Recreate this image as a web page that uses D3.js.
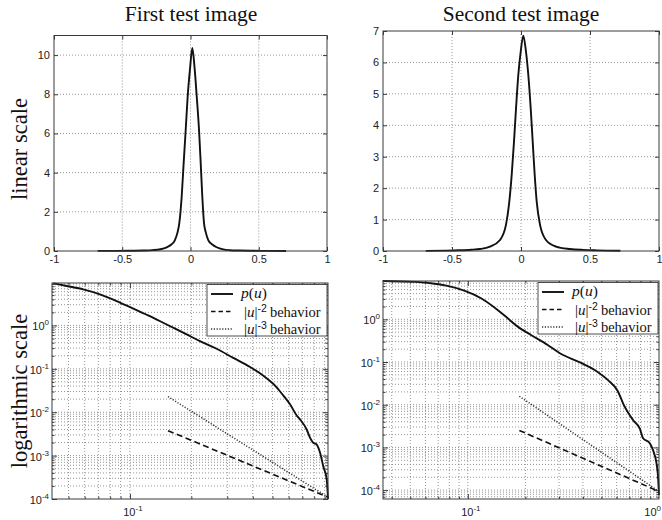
<!DOCTYPE html>
<html>
<head>
<meta charset="utf-8">
<script src="https://cdn.jsdelivr.net/npm/d3@7"></script>
<style>
  body { margin: 0; background: #fff; }
</style>
</head>
<body>
<svg id="fig" width="662" height="520"></svg>
<script>
// ---- linear-scale density p(u), first image ----
const linU1 = [-0.68, -0.55, -0.45, -0.35, -0.28, -0.22, -0.174, -0.14, -0.114, -0.095, -0.082, -0.0645, -0.050, -0.035, -0.0205, -0.0037, 0.0132, 0.0307, 0.0454, 0.0623, 0.0747, 0.0864, 0.099, 0.112, 0.130, 0.16, 0.192, 0.24, 0.289, 0.36, 0.45, 0.55, 0.70];
const linP1 = [0.004, 0.008, 0.014, 0.026, 0.045, 0.09, 0.19, 0.33, 0.56, 0.95, 1.42, 2.78, 4.5, 6.2, 7.91, 9.28, 10.36, 9.28, 7.91, 6.2, 4.5, 2.78, 1.42, 0.95, 0.56, 0.33, 0.19, 0.08, 0.04, 0.022, 0.012, 0.007, 0.003];

// ---- linear-scale density p(u), second image ----
const linU2 = [-0.69, -0.55, -0.45, -0.36, -0.297, -0.225, -0.152, -0.109, -0.0848, -0.0674, -0.0507, -0.036, -0.0196, -0.0022, 0.0167, 0.0362, 0.053, 0.0703, 0.0848, 0.0993, 0.1138, 0.138, 0.181, 0.254, 0.355, 0.45, 0.55, 0.72];
const linP2 = [0.005, 0.012, 0.022, 0.04, 0.064, 0.14, 0.35, 0.83, 1.57, 2.42, 3.48, 4.54, 5.6, 6.34, 6.85, 6.34, 5.6, 4.54, 3.48, 2.42, 1.57, 0.83, 0.35, 0.14, 0.064, 0.035, 0.02, 0.006];

// ---- log-log tail of p(u), first image ----
const logU1 = [0.0421, 0.049, 0.059, 0.0713, 0.0861, 0.1039, 0.1253, 0.1514, 0.1897, 0.2203, 0.266, 0.321, 0.388, 0.449, 0.525, 0.565, 0.610, 0.658, 0.682, 0.735, 0.763, 0.790, 0.823, 0.855, 0.887, 0.922, 0.935];
const logP1 = [9.33, 8.09, 6.78, 5.2, 3.64, 2.43, 1.64, 1.05, 0.62, 0.434, 0.29, 0.178, 0.110, 0.070, 0.037, 0.0242, 0.0150, 0.0083, 0.0068, 0.0040, 0.0026, 0.0020, 0.0018, 0.00117, 0.00056, 0.00028, 0.0001];

// ---- log-log tail of p(u), second image ----
const logU2 = [0.0359, 0.0525, 0.0641, 0.0784, 0.0958, 0.1172, 0.1432, 0.1616, 0.1824, 0.2139, 0.2617, 0.303, 0.386, 0.4777, 0.5395, 0.608, 0.656, 0.731, 0.795, 0.824, 0.897, 0.930, 0.970, 0.987, 1.0];
const logP2 = [7.9, 7.52, 7.0, 6.06, 4.70, 3.12, 1.66, 1.06, 0.675, 0.431, 0.251, 0.1607, 0.098, 0.0586, 0.0381, 0.0210, 0.00963, 0.0044, 0.00271, 0.00167, 0.00124, 0.00087, 0.00043, 0.000227, 0.000077];

// ---- reference power laws |u|^-2 and |u|^-3 (end points) ----
const refU1 = [0.1537, 0.935];
const pow2P1 = [0.00376, 0.00011];
const pow3P1 = [0.0229, 0.00011];
const refU2 = [0.186, 1.0];
const pow2P2 = [0.0025, 0.000093];
const pow3P2 = [0.0158, 0.000093];

// ---- text and ticks ----
const titles = ["First test image", "Second test image"];
const rowLabels = ["linear scale", "logarithmic scale"];
const linXTicks = [-1, -0.5, 0, 0.5, 1];
const linXTickLabels = ["-1", "-0.5", "0", "0.5", "1"];
const linYTicks1 = [0, 2, 4, 6, 8, 10];
const linYTicks2 = [0, 1, 2, 3, 4, 5, 6, 7];
const logYMajor = [1e-4, 1e-3, 1e-2, 1e-1, 1];
const logXMajor = [0.1, 1];
const legendItems = ["p(u)", "|u|^-2 behavior", "|u|^-3 behavior"];

const serif = "'Liberation Serif', 'DejaVu Serif', serif";
const sans = "'Liberation Sans', Arial, sans-serif";
const gridColor = "#8a8a8a";
const frameColor = "#3a3a3a";
const W = 662;

const svg = d3.select("#fig");

function zip(a, b) { return a.map((v, i) => [v, b[i]]); }

function boxRect(g, x0, x1, y0, y1) {
  g.append("rect")
    .attr("x", x0).attr("y", y0)
    .attr("width", x1 - x0).attr("height", y1 - y0)
    .attr("fill", "none").attr("stroke", frameColor).attr("stroke-width", 1);
}

function dropDomain(sel) { sel.select(".domain").remove(); }

// ---------- linear panels ----------
function linearPanel(o) {
  const g = svg.append("g");
  const x = d3.scaleLinear().domain([-1, 1]).range([o.x0, o.x1]);
  const y = d3.scaleLinear().domain([0, o.yMax]).range([o.y1, o.y0]);

  // grid
  g.append("g").selectAll("line").data(linXTicks.slice(1, -1)).join("line")
    .attr("x1", d => x(d)).attr("x2", d => x(d))
    .attr("y1", o.y0).attr("y2", o.y1)
    .attr("stroke", gridColor).attr("stroke-width", 0.9).attr("stroke-dasharray", "1,2");
  g.append("g").selectAll("line").data(o.yTicks.filter(v => v > 0 && v < o.yMax)).join("line")
    .attr("x1", o.x0).attr("x2", o.x1)
    .attr("y1", d => y(d)).attr("y2", d => y(d))
    .attr("stroke", gridColor).attr("stroke-width", 0.9).attr("stroke-dasharray", "1,2");

  // curve
  const line = d3.line().x(d => x(d[0])).y(d => y(d[1])).curve(d3.curveMonotoneX);
  g.append("path").datum(zip(o.u, o.p))
    .attr("d", line).attr("fill", "none")
    .attr("stroke", "#111").attr("stroke-width", 1.9).attr("stroke-linejoin", "round");

  // axes, ticks pointing inward
  const fmt = d => linXTickLabels[linXTicks.indexOf(d)];
  g.append("g").attr("transform", `translate(0,${o.y1})`)
    .call(d3.axisBottom(x).tickValues(linXTicks).tickFormat(fmt).tickSize(-4).tickPadding(4))
    .call(dropDomain);
  g.append("g").attr("transform", `translate(0,${o.y0})`)
    .call(d3.axisTop(x).tickValues(linXTicks).tickFormat("").tickSize(-4))
    .call(dropDomain);
  g.append("g").attr("transform", `translate(${o.x0},0)`)
    .call(d3.axisLeft(y).tickValues(o.yTicks).tickFormat(d3.format("d")).tickSize(-4).tickPadding(4))
    .call(dropDomain);
  g.append("g").attr("transform", `translate(${o.x1},0)`)
    .call(d3.axisRight(y).tickValues(o.yTicks).tickFormat("").tickSize(-4))
    .call(dropDomain);

  g.selectAll(".tick line").attr("stroke", frameColor);
  g.selectAll(".tick text").attr("font-family", sans).attr("font-size", 11).attr("fill", "#222");

  boxRect(g, o.x0, o.x1, o.y0, o.y1);
}

// ---------- log panels ----------
function powerLabel(sel, v, anchor) {
  const e = Math.round(Math.log10(v));
  sel.attr("text-anchor", anchor).attr("font-family", sans).attr("fill", "#222");
  sel.append("tspan").attr("font-size", 11).text("10");
  sel.append("tspan").attr("font-size", 8).attr("dy", -5).text(String(e));
}

function logPanel(o) {
  const g = svg.append("g");
  const x = d3.scaleLog().domain(o.xDom).range([o.x0, o.x1]);
  const y = d3.scaleLog().domain(o.yDom).range([o.y1, o.y0]);

  const xAll = x.ticks().filter(v => v > o.xDom[0] * 1.0001 && v < o.xDom[1] * 0.9999);
  const yAll = y.ticks().filter(v => v > o.yDom[0] * 1.0001 && v < o.yDom[1] * 0.9999);
  const isMajor = v => Math.abs(Math.log10(v) - Math.round(Math.log10(v))) < 1e-6;

  // full (major + minor) dotted grid
  g.append("g").selectAll("line").data(xAll).join("line")
    .attr("x1", d => x(d)).attr("x2", d => x(d))
    .attr("y1", o.y0).attr("y2", o.y1)
    .attr("stroke", gridColor).attr("stroke-width", 0.9).attr("stroke-dasharray", "1,2");
  g.append("g").selectAll("line").data(yAll).join("line")
    .attr("x1", o.x0).attr("x2", o.x1)
    .attr("y1", d => y(d)).attr("y2", d => y(d))
    .attr("stroke", gridColor).attr("stroke-width", 0.9).attr("stroke-dasharray", "1,2");

  // inward tick marks, major longer than minor
  const xMaj = xAll.filter(isMajor), xMin = xAll.filter(v => !isMajor(v));
  const yMaj = logYMajor.filter(v => v >= o.yDom[0] && v <= o.yDom[1]);
  const yMin = yAll.filter(v => !isMajor(v));
  const axes = [
    [d3.axisBottom(x).tickValues(xMaj).tickSize(-5), `translate(0,${o.y1})`],
    [d3.axisBottom(x).tickValues(xMin).tickSize(-2.5), `translate(0,${o.y1})`],
    [d3.axisTop(x).tickValues(xMaj).tickSize(-5), `translate(0,${o.y0})`],
    [d3.axisTop(x).tickValues(xMin).tickSize(-2.5), `translate(0,${o.y0})`],
    [d3.axisLeft(y).tickValues(yMaj).tickSize(-5), `translate(${o.x0},0)`],
    [d3.axisLeft(y).tickValues(yMin).tickSize(-2.5), `translate(${o.x0},0)`],
    [d3.axisRight(y).tickValues(yMaj).tickSize(-5), `translate(${o.x1},0)`],
    [d3.axisRight(y).tickValues(yMin).tickSize(-2.5), `translate(${o.x1},0)`]
  ];
  axes.forEach(([ax, tr]) => {
    g.append("g").attr("transform", tr).call(ax.tickFormat("")).call(dropDomain);
  });
  g.selectAll(".tick line").attr("stroke", frameColor);

  // reference slopes
  const line = d3.line().x(d => x(d[0])).y(d => y(d[1]));
  g.append("path").datum(zip(o.refU, o.pow2))
    .attr("d", line).attr("fill", "none").attr("stroke", "#111")
    .attr("stroke-width", 1.6).attr("stroke-dasharray", "6,3.5");
  g.append("path").datum(zip(o.refU, o.pow3))
    .attr("d", line).attr("fill", "none").attr("stroke", "#333")
    .attr("stroke-width", 1.5).attr("stroke-dasharray", "1.2,1.6");

  // p(u)
  const curve = d3.line().x(d => x(d[0])).y(d => y(d[1])).curve(d3.curveMonotoneX);
  g.append("path").datum(zip(o.u, o.p))
    .attr("d", curve).attr("fill", "none")
    .attr("stroke", "#111").attr("stroke-width", 1.9).attr("stroke-linejoin", "round");

  // tick labels
  yMaj.forEach(v => {
    g.append("text").attr("x", o.x0 - 3).attr("y", y(v) + 5).call(s => powerLabel(s, v, "end"));
  });
  logXMajor.filter(v => v >= o.xDom[0] && v <= o.xDom[1] * 1.0001).forEach(v => {
    const px = x(v) + 3;
    // keep the last label inside the page
    if (px + 9 > W) {
      g.append("text").attr("x", W - 1).attr("y", o.y1 + 17).call(s => powerLabel(s, v, "end"));
    } else {
      g.append("text").attr("x", px).attr("y", o.y1 + 17).call(s => powerLabel(s, v, "middle"));
    }
  });

  boxRect(g, o.x0, o.x1, o.y0, o.y1);

  // legend
  const lx = o.legX, ly = o.y0 + 1.5, lw = 120, lh = 51.5;
  const lg = g.append("g");
  lg.append("rect").attr("x", lx).attr("y", ly).attr("width", lw).attr("height", lh)
    .attr("fill", "#fff").attr("stroke", frameColor).attr("stroke-width", 0.9);
  const rows = [ly + 9.5, ly + 27, ly + 44.5];
  const styles = [
    { dash: null, w: 1.9, c: "#111" },
    { dash: "4.5,3", w: 1.5, c: "#111" },
    { dash: "1.2,1.6", w: 1.3, c: "#333" }
  ];
  rows.forEach((ry, i) => {
    const s = styles[i];
    const l = lg.append("line").attr("x1", lx + 4).attr("x2", lx + 26)
      .attr("y1", ry).attr("y2", ry).attr("stroke", s.c).attr("stroke-width", s.w);
    if (s.dash) l.attr("stroke-dasharray", s.dash);
  });
  // p(u)
  const t0 = lg.append("text").attr("x", lx + 34).attr("y", rows[0] + 4)
    .attr("font-family", serif).attr("font-size", 15.5).attr("fill", "#111");
  t0.append("tspan").attr("font-style", "italic").text("p");
  t0.append("tspan").text("(");
  t0.append("tspan").attr("font-style", "italic").text("u");
  t0.append("tspan").text(")");
  // |u|^-k behavior
  [1, 2].forEach(i => {
    const k = legendItems[i].match(/\^(-\d)/)[1];
    const t = lg.append("text").attr("x", lx + 37).attr("y", rows[i] + 5)
      .attr("font-family", serif).attr("font-size", 15).attr("fill", "#111");
    t.append("tspan").text("|");
    t.append("tspan").attr("font-style", "italic").text("u");
    t.append("tspan").text("|");
    t.append("tspan").attr("font-family", sans).attr("font-size", 10.5).attr("dy", -5).text(k);
    t.append("tspan").attr("dy", 5).attr("dx", 3).attr("font-size", 14.5).text("behavior");
  });
}

linearPanel({ x0: 54, x1: 327, y0: 35.5, y1: 251, yMax: 11, yTicks: linYTicks1, u: linU1, p: linP1 });
linearPanel({ x0: 383, x1: 659, y0: 31, y1: 251, yMax: 7, yTicks: linYTicks2, u: linU2, p: linP2 });

logPanel({ x0: 52, x1: 328, y0: 283, y1: 499, xDom: [0.0415, 0.935], yDom: [1e-4, 9.5],
  u: logU1, p: logP1, refU: refU1, pow2: pow2P1, pow3: pow3P1, legX: 207 });
logPanel({ x0: 383, x1: 659, y0: 281, y1: 499, xDom: [0.036, 1.0], yDom: [6.2e-5, 7.9],
  u: logU2, p: logP2, refU: refU2, pow2: pow2P2, pow3: pow3P2, legX: 538 });

// column titles
svg.selectAll("text.title").data(titles).join("text").attr("class", "title")
  .attr("x", (d, i) => i === 0 ? 191 : 521).attr("y", 21)
  .attr("text-anchor", "middle").attr("font-family", serif).attr("font-size", 21.5)
  .attr("fill", "#111").text(d => d);

// row labels
svg.selectAll("text.rowlab").data(rowLabels).join("text").attr("class", "rowlab")
  .attr("transform", (d, i) => `translate(27,${i === 0 ? 149 : 391}) rotate(-90)`)
  .attr("text-anchor", "middle").attr("font-family", serif).attr("font-size", 22.5)
  .attr("fill", "#111").text(d => d);
</script>
</body>
</html>
